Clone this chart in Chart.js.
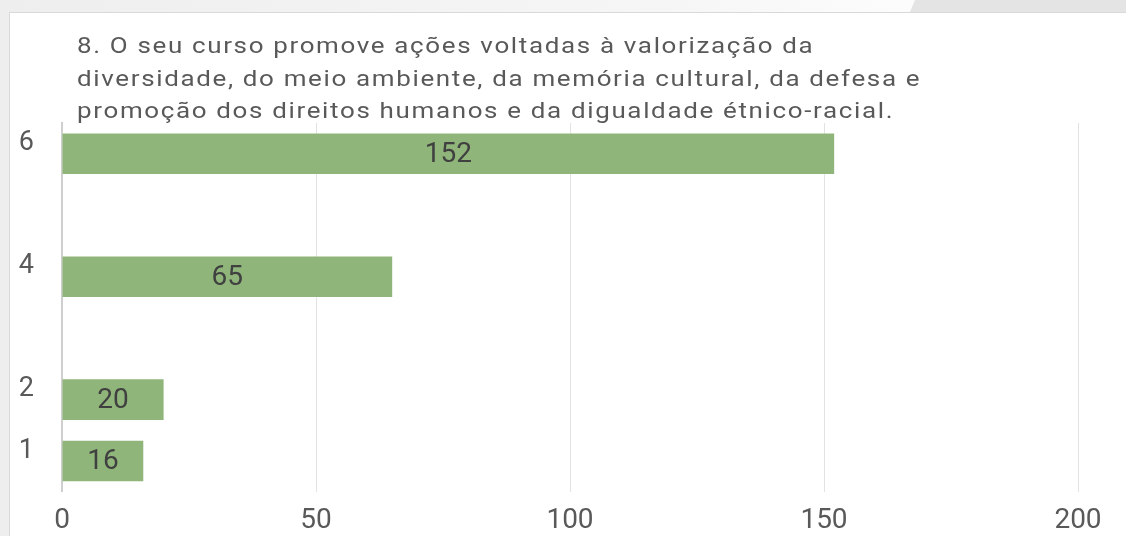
<!DOCTYPE html>
<html>
<head>
<meta charset="utf-8">
<script src="https://cdn.jsdelivr.net/npm/chart.js@4/dist/chart.umd.min.js"></script>
<style>
  html, body { margin: 0; padding: 0; width: 1126px; height: 536px; overflow: hidden; }
  body { position: relative; background: #eeeeee; font-family: Roboto, sans-serif; }
  #strip { position: absolute; left: 0; top: 0; width: 1126px; height: 12px;
           background: linear-gradient(to right, #eeeeee 0%, #f6f6f6 60%, #fcfcfc 80%); }
  #slant { position: absolute; left: 905px; top: 0; width: 221px; height: 12px; background: #e4e4e4;
           clip-path: polygon(10px 0, 221px 0, 221px 12px, 5px 12px); }
  #box { position: absolute; left: 9px; top: 12px; width: 1130px; height: 540px; background: #ffffff;
         border-left: 1px solid #d9d9d9; border-top: 1px solid #d9d9d9; box-sizing: border-box; }
  #c { position: absolute; left: 0; top: 0; }
  #title { position: absolute; left: 77px; top: 30px; color: #595959; font-family: Roboto, sans-serif;
           font-size: 22px; line-height: 32.5px; letter-spacing: 1.4px; white-space: nowrap;
           transform-origin: 0 0; transform: scaleX(1.18); }
</style>
</head>
<body>
<div id="strip"></div>
<div id="slant"></div>
<div id="box"></div>
<canvas id="c" width="1126" height="536"></canvas>
<div id="title">8. O seu curso promove ações voltadas à valorização da<br>diversidade, do meio ambiente, da memória cultural, da defesa e<br>promoção dos direitos humanos e da digualdade étnico-racial.</div>
<script>
const categories = ['6', '', '4', '', '2', '1'];
const values = [152, null, 65, null, 20, 16];
const xTicks = [0, 50, 100, 150, 200];

const valueLabels = {
  id: 'valueLabels',
  afterDatasetsDraw(chart) {
    const ctx = chart.ctx;
    const meta = chart.getDatasetMeta(0);
    ctx.save();
    ctx.font = '28px Roboto, sans-serif';
    ctx.fillStyle = '#404040';
    ctx.textAlign = 'center';
    ctx.textBaseline = 'middle';
    meta.data.forEach((bar, i) => {
      const v = values[i];
      if (v === null || v === undefined) return;
      const p = bar.getProps(['x', 'y', 'base'], true);
      ctx.fillText(String(v), (p.x + p.base) / 2, p.y + 1);
    });
    ctx.restore();
  }
};

new Chart(document.getElementById('c'), {
  type: 'bar',
  data: {
    labels: categories,
    datasets: [{
      data: values,
      backgroundColor: '#8fb57a',
      borderWidth: 0,
      categoryPercentage: 1,
      barPercentage: 0.66
    }]
  },
  options: {
    indexAxis: 'y',
    responsive: false,
    maintainAspectRatio: false,
    animation: false,
    layout: { padding: { left: 0, right: 48, top: 123, bottom: 0 } },
    plugins: { legend: { display: false }, tooltip: { enabled: false }, title: { display: false } },
    scales: {
      x: {
        min: 0, max: 200,
        afterBuildTicks(scale) { scale.ticks = xTicks.map(v => ({ value: v })); },
        afterFit(scale) { scale.height = 39; },
        grid: { color: '#e2e2e2', lineWidth: 1, drawTicks: false },
        border: { display: false },
        ticks: { padding: 12, color: '#595959', font: { family: 'Roboto', size: 28 } }
      },
      y: {
        afterFit(scale) { scale.width = 62; },
        grid: { display: false, drawTicks: false },
        border: { display: true, color: '#cfcfcf', width: 2 },
        ticks: { padding: 28, labelOffset: -10, color: '#595959', font: { family: 'Roboto', size: 27 } }
      }
    }
  },
  plugins: [valueLabels]
});
</script>
</body>
</html>
